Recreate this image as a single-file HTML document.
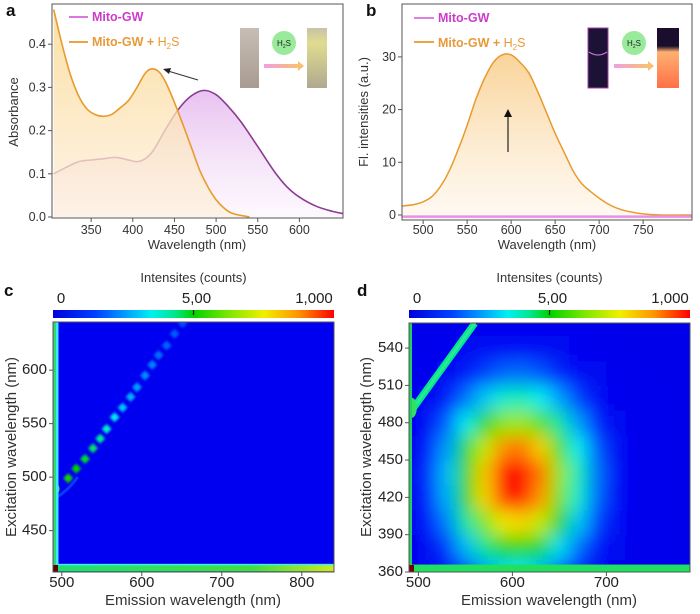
<!DOCTYPE html>
<html><head><meta charset="utf-8"><style>
html,body{margin:0;padding:0;background:#fff;}
svg{display:block;font-family:"Liberation Sans",Arial,sans-serif;}
.tl{font-size:12.5px;fill:#333;}
.tt{font-size:13px;fill:#333;}
.pl{font-size:17px;font-weight:bold;fill:#111;}
.cbl{font-size:15px;fill:#222;}
</style></head><body>
<svg id="fig" width="700" height="614" viewBox="0 0 700 614">
<defs>
<linearGradient id="gPur" x1="0" y1="0" x2="0" y2="1"><stop offset="0" stop-color="#e4b6ee" stop-opacity="0.85"/><stop offset="1" stop-color="#fbf1fc" stop-opacity="0.5"/></linearGradient>
<linearGradient id="gOra" x1="0" y1="0" x2="0" y2="1"><stop offset="0" stop-color="#fbd88e" stop-opacity="0.8"/><stop offset="1" stop-color="#fdf0e0" stop-opacity="0.75"/></linearGradient>
<linearGradient id="gOraB" x1="0" y1="0" x2="0" y2="1"><stop offset="0" stop-color="#f8cf8e" stop-opacity="0.9"/><stop offset="1" stop-color="#fff6ea" stop-opacity="0.6"/></linearGradient>
<linearGradient id="gArr" x1="0" y1="0" x2="1" y2="0"><stop offset="0" stop-color="#f0a0e0"/><stop offset="1" stop-color="#f8c070"/></linearGradient>
<linearGradient id="gCB" x1="0" y1="0" x2="1" y2="0">
<stop offset="0" stop-color="#0000dc"/><stop offset="0.15" stop-color="#0040ff"/><stop offset="0.25" stop-color="#0096ff"/><stop offset="0.35" stop-color="#00f0f0"/><stop offset="0.43" stop-color="#00e890"/><stop offset="0.5" stop-color="#00d200"/><stop offset="0.62" stop-color="#78e600"/><stop offset="0.75" stop-color="#f0f000"/><stop offset="0.87" stop-color="#ff9600"/><stop offset="1" stop-color="#ff0000"/></linearGradient>
<linearGradient id="gVialA" x1="0" y1="0" x2="0" y2="1"><stop offset="0" stop-color="#c8bdb4"/><stop offset="1" stop-color="#a89c92"/></linearGradient>
<linearGradient id="gVialB" x1="0" y1="0" x2="0" y2="1"><stop offset="0" stop-color="#c8c2a8"/><stop offset="0.25" stop-color="#e0dc90"/><stop offset="1" stop-color="#b0a890"/></linearGradient>
<linearGradient id="gVialD" x1="0" y1="0" x2="0" y2="1"><stop offset="0" stop-color="#1a0e2c"/><stop offset="0.3" stop-color="#1a0e2c"/><stop offset="0.4" stop-color="#ffb070"/><stop offset="1" stop-color="#ff7048"/></linearGradient>
<linearGradient id="gStripC" x1="0" y1="0" x2="1" y2="0"><stop offset="0" stop-color="#20e070"/><stop offset="0.7" stop-color="#40e040"/><stop offset="1" stop-color="#d0e820"/></linearGradient>
<clipPath id="clipA"><rect x="52" y="4" width="291" height="214"/></clipPath>
<clipPath id="clipB"><rect x="402" y="4" width="290" height="216"/></clipPath>
<clipPath id="clipC"><rect x="53" y="322" width="281" height="250"/></clipPath>
<clipPath id="clipD"><rect x="409" y="323" width="281" height="249"/></clipPath>
<filter id="blurD" x="-10%" y="-10%" width="120%" height="120%"><feGaussianBlur stdDeviation="9"/></filter>
<filter id="blurS" x="-20%" y="-20%" width="140%" height="140%"><feGaussianBlur stdDeviation="1.2"/></filter>
</defs>

<text class="pl" x="6" y="16">a</text>
<text class="pl" x="366" y="16">b</text>
<text class="pl" x="4" y="296">c</text>
<text class="pl" x="357" y="296">d</text>

<g id="panelA"></g>
<g id="panelB"></g>
<g id="panelC"></g>
<g id="panelD"></g>

<text class="tt" x="197" y="249" text-anchor="middle">Wavelength (nm)</text>
<text class="tt" transform="translate(18,112) rotate(-90)" text-anchor="middle">Absorbance</text>
<text class="tt" x="547" y="249" text-anchor="middle">Wavelength (nm)</text>
<text class="tt" transform="translate(368,112) rotate(-90)" text-anchor="middle">Fl. intensities (a.u.)</text>
<text style="font-size:15px;fill:#333" x="193" y="605" text-anchor="middle">Emission wavelength (nm)</text>
<text style="font-size:15px;fill:#333" transform="translate(16,447) rotate(-90)" text-anchor="middle">Excitation wavelength (nm)</text>
<text style="font-size:15px;fill:#333" x="549" y="605" text-anchor="middle">Emission wavelength (nm)</text>
<text style="font-size:15px;fill:#333" transform="translate(371,447) rotate(-90)" text-anchor="middle">Excitation wavelength (nm)</text>

<line x1="69" y1="17" x2="88" y2="17" stroke="#d878e0" stroke-width="2"/>
<text x="92" y="21" style="font-size:12.5px;font-weight:bold;fill:#cc3ccc">Mito-GW</text>
<line x1="69" y1="42" x2="88" y2="42" stroke="#eca440" stroke-width="2"/>
<text x="92" y="46" style="font-size:12.5px;fill:#e89a38"><tspan font-weight="bold">Mito-GW + </tspan>H<tspan font-size="8" dy="3">2</tspan><tspan dy="-3">S</tspan></text>
<line x1="414" y1="18" x2="434" y2="18" stroke="#e080e0" stroke-width="2"/>
<text x="438" y="22" style="font-size:12.5px;font-weight:bold;fill:#cc3ccc">Mito-GW</text>
<line x1="414" y1="42" x2="434" y2="42" stroke="#eca440" stroke-width="2"/>
<text x="438" y="47" style="font-size:12.5px;fill:#e89a38"><tspan font-weight="bold">Mito-GW + </tspan>H<tspan font-size="8" dy="3">2</tspan><tspan dy="-3">S</tspan></text>

<g>
<rect x="240" y="28" width="19" height="60" fill="url(#gVialA)"/>
<rect x="307" y="28" width="20" height="60" fill="url(#gVialB)"/>
<circle cx="284" cy="43" r="12" fill="#8ee890" opacity="0.9"/>
<text x="284" y="46" text-anchor="middle" style="font-size:8px;fill:#222">H<tspan font-size="5" dy="2">2</tspan><tspan dy="-2">S</tspan></text>
<rect x="264" y="64" width="34" height="4" fill="url(#gArr)"/>
<polygon points="298,61 304,66 298,71" fill="#f8c070"/>
</g>
<g>
<rect x="588" y="28" width="20" height="60" fill="#1c1236" stroke="#a040a0" stroke-width="1"/>
<path d="M589 52 Q598 58 607 52" stroke="#c070d0" fill="none" stroke-width="1.2"/>
<rect x="657" y="28" width="22" height="60" fill="url(#gVialD)"/>
<circle cx="634" cy="43" r="12" fill="#8ee890" opacity="0.9"/>
<text x="634" y="46" text-anchor="middle" style="font-size:8px;fill:#222">H<tspan font-size="5" dy="2">2</tspan><tspan dy="-2">S</tspan></text>
<rect x="614" y="64" width="34" height="4" fill="url(#gArr)"/>
<polygon points="648,61 654,66 648,71" fill="#f8c070"/>
</g>
<line x1="198" y1="80" x2="168" y2="71" stroke="#333" stroke-width="1"/>
<polygon points="163,69 171,68 169,74" fill="#222"/>
<line x1="508" y1="152" x2="508" y2="116" stroke="#222" stroke-width="1.2"/>
<polygon points="508,109 504,117 512,117" fill="#111"/>
</svg>

<script>
// ---------- data: panel a ----------
const absPurpleWl = [305,320,335,350,365,380,395,405,415,425,440,455,470,485,500,515,530,550,570,585,600,620,640,652];
const absPurpleVal = [0.10,0.115,0.128,0.132,0.135,0.138,0.132,0.128,0.135,0.155,0.205,0.25,0.28,0.293,0.283,0.255,0.22,0.163,0.105,0.07,0.046,0.025,0.013,0.008];
const absOrangeWl = [305,315,325,335,345,355,365,375,385,395,405,415,423,432,440,450,460,470,480,490,500,510,520,540];
const absOrangeVal = [0.48,0.40,0.33,0.28,0.25,0.237,0.233,0.238,0.253,0.27,0.30,0.333,0.343,0.335,0.31,0.265,0.215,0.163,0.11,0.07,0.04,0.02,0.008,0.0];
const aXTicks = [350,400,450,500,550,600];
const aYTicks = [0.0,0.1,0.2,0.3,0.4];
const aYTickLabels = ["0.0","0.1","0.2","0.3","0.4"];
// ---------- data: panel b ----------
const flWl = [476,490,500,510,520,530,540,550,560,570,580,590,600,610,620,630,640,650,660,670,680,690,700,710,720,730,750,770,806];
const flOrangeVal = [1.7,2.0,2.5,3.5,5.5,8.5,12.5,17,22,26,29,30.4,30.4,29,27,23.5,19.5,15.5,12,8.5,6,4.5,3.2,2.1,1.3,0.8,0.2,0,0];
const flPurpleWl = [476,806];
const flPurpleVal = [-0.3,-0.3];
const bXTicks = [500,550,600,650,700,750];
const bYTicks = [0,10,20,30];
// ---------- data: panel c ----------
const cXTicks = [500,600,700,800];
const cYTicks = [450,500,550,600];
const diagEmC = [508,518,529,539,548,556,566,576,586,594,604,613,621,631,641,651];
const diagExC = [499,508,517,527,536,545,556,565,575,584,595,605,614,623,634,644];
const diagValC = [520,500,480,450,420,380,340,300,280,260,240,230,210,200,190,180];
// ---------- data: panel d ----------
const dXTicks = [500,600,700];
const dYTicks = [360,390,420,450,480,510,540];
const gridEmD = [490,510,530,550,570,590,610,630,650,670,690,710,730,750,770,790];
const gridExD = [360,380,400,420,440,460,480,500,520,540,560];
const gridValD = [
 [17,42,88,154,260,330,340,300,191,119,62,27,10,3,0,0],
 [30,74,154,290,430,520,540,480,335,209,109,48,18,6,0,0],
 [44,109,227,420,620,760,790,700,495,308,161,71,26,8,0,0],
 [54,135,282,520,780,960,990,870,614,382,200,88,32,10,0,0],
 [57,141,295,540,800,1000,1000,900,650,399,209,92,34,11,0,0],
 [50,124,258,480,700,880,900,790,563,350,183,80,30,10,0,0],
 [37,92,191,350,520,640,660,580,416,259,135,59,22,7,0,0],
 [23,57,119,209,308,382,399,350,259,161,84,37,14,4,0,0],
 [12,30,62,109,161,200,209,183,135,84,44,19,7,2,0,0],
 [5,13,27,48,71,88,92,80,59,37,19,8,3,1,0,0],
 [2,5,10,18,26,32,34,30,22,14,7,3,1,0,0,0]
];
const diagEmD = [493,560];
const diagExD = [490,560];
const diagValD = [430,400];
const cbTickLabels = ["0","5,00","1,000"];

// ---------- helpers ----------
const NS='http://www.w3.org/2000/svg';
function mk(tag, attrs, parent){const e=document.createElementNS(NS,tag);for(const k in attrs)e.setAttribute(k,attrs[k]);parent.appendChild(e);return e;}
const xA=w=>52+(w-303)*0.833, yA=v=>217-v*432;
const xB=w=>402+(w-476)*0.88, yB=v=>215-v*5.27;
const xC=w=>53+(w-489)*0.8, yC=e=>322+(645-e)*1.07;
const xD=w=>409+(w-490)*0.94, yD=e=>572-(e-360)*1.244;
const cmapStops=[[0,[0,0,235]],[0.12,[0,20,250]],[0.25,[0,150,255]],[0.35,[0,240,240]],[0.43,[0,232,144]],[0.5,[0,210,0]],[0.62,[120,230,0]],[0.75,[240,240,0]],[0.87,[255,150,0]],[1,[255,0,0]]];
function cmap(v){let t=Math.max(0,Math.min(1,v/1000));for(let i=1;i<cmapStops.length;i++){const [t1,c1]=cmapStops[i],[t0,c0]=cmapStops[i-1];if(t<=t1){const f=(t-t0)/(t1-t0);return 'rgb('+c0.map((c,j)=>Math.round(c+(c1[j]-c)*f)).join(',')+')';}}return 'rgb(255,0,0)';}
function pathOf(xs,ys,fx,fy){return xs.map((x,i)=>(i?'L':'M')+fx(x).toFixed(1)+' '+fy(ys[i]).toFixed(1)).join(' ');}
function smoothPath(xs,ys,fx,fy){const p=xs.map((x,i)=>[fx(x),fy(ys[i])]);let d='M'+p[0][0].toFixed(1)+' '+p[0][1].toFixed(1);for(let i=0;i<p.length-1;i++){const p0=p[Math.max(0,i-1)],p1=p[i],p2=p[i+1],p3=p[Math.min(p.length-1,i+2)];const c1=[p1[0]+(p2[0]-p0[0])/6,p1[1]+(p2[1]-p0[1])/6],c2=[p2[0]-(p3[0]-p1[0])/6,p2[1]-(p3[1]-p1[1])/6];d+=' C'+c1.map(v=>v.toFixed(1)).join(' ')+' '+c2.map(v=>v.toFixed(1)).join(' ')+' '+p2[0].toFixed(1)+' '+p2[1].toFixed(1);}return d;}
function frame(g,x,y,w,h,name){const r=mk('rect',{x:x,y:y,width:w,height:h,fill:'none',stroke:'#555','stroke-width':1},g);}
function xTicks(g,ticks,fx,yb,labels,cls,dy,name){ticks.forEach((t,i)=>{const l=mk('line',{x1:fx(t),x2:fx(t),y1:yb,y2:yb+4,stroke:'#555'},g);const tx=mk('text',{x:fx(t),y:yb+dy,'text-anchor':'middle',class:cls},g);tx.textContent=labels?labels[i]:String(t);});}
function yTicks(g,ticks,fy,xl,labels,cls,name){ticks.forEach((t,i)=>{const l=mk('line',{x1:xl-4,x2:xl,y1:fy(t),y2:fy(t),stroke:'#555'},g);const tx=mk('text',{x:xl-6,y:fy(t)+4,'text-anchor':'end',class:cls},g);tx.textContent=labels?labels[i]:String(t);});}

// ---------- panel a ----------
const gA=document.getElementById('panelA');
const gAc=mk('g',{'clip-path':'url(#clipA)'},gA);
const pPur=smoothPath(absPurpleWl,absPurpleVal,xA,yA);
const pOra=smoothPath(absOrangeWl,absOrangeVal,xA,yA);
const fPur=mk('path',{d:pPur+' L'+xA(absPurpleWl[absPurpleWl.length-1])+' '+yA(0)+' L'+xA(absPurpleWl[0])+' '+yA(0)+' Z',fill:'url(#gPur)'},gAc);


const lPur=mk('path',{d:pPur,fill:'none',stroke:'#8a3c92','stroke-width':1.6},gAc);


const fOra=mk('path',{d:pOra+' L'+xA(absOrangeWl[absOrangeWl.length-1])+' '+yA(0)+' L'+xA(absOrangeWl[0])+' '+yA(0)+' Z',fill:'url(#gOra)'},gAc);


const lOra=mk('path',{d:pOra,fill:'none',stroke:'#e89a2c','stroke-width':1.6},gAc);


frame(gA,52,4,291,214,'plot-frame-a');
xTicks(gA,aXTicks,xA,218,null,'tl',16,'x-axis-a');
yTicks(gA,aYTicks,yA,52,aYTickLabels,'tl','y-axis-a');

// ---------- panel b ----------
const gB=document.getElementById('panelB');
const gBc=mk('g',{'clip-path':'url(#clipB)'},gB);
const pFl=smoothPath(flWl,flOrangeVal,xB,yB);
const fFl=mk('path',{d:pFl+' L'+xB(flWl[flWl.length-1])+' '+yB(-1)+' L'+xB(flWl[0])+' '+yB(-1)+' Z',fill:'url(#gOraB)'},gBc);


const lFl=mk('path',{d:pFl,fill:'none',stroke:'#e89a2c','stroke-width':1.5},gBc);


const lFp=mk('path',{d:pathOf(flPurpleWl,flPurpleVal,xB,yB),fill:'none',stroke:'#e890e8','stroke-width':2.5},gBc);


frame(gB,402,4,290,216,'plot-frame-b');
xTicks(gB,bXTicks,xB,220,null,'tl',14,'x-axis-b');
yTicks(gB,bYTicks,yB,402,null,'tl','y-axis-b');

// ---------- colorbars ----------
function colorbar(g,x,w,name){const r=mk('rect',{x:x,y:310,width:w,height:8,fill:'url(#gCB)'},g);mk('line',{x1:x+w/2,x2:x+w/2,y1:310,y2:315,stroke:'#111','stroke-width':1.2},g);
const t=mk('text',{x:x+w/2,y:282,'text-anchor':'middle',style:'font-size:13px;fill:#333'},g);t.textContent='Intensites (counts)';
const xs=[x+8,x+w/2+3,x+w-20];cbTickLabels.forEach((s,i)=>{const tx=mk('text',{x:xs[i],y:303,'text-anchor':'middle',class:'cbl'},g);tx.textContent=s;});}

// ---------- panel c ----------
const gC=document.getElementById('panelC');
colorbar(gC,53,281,'colorbar-c');
const gCc=mk('g',{'clip-path':'url(#clipC)'},gC);
mk('rect',{x:53,y:322,width:281,height:250,fill:'#0000f0'},gCc);
mk('path',{d:'M'+xC(490)+' '+yC(480)+' Q'+xC(505)+' '+yC(485)+' '+xC(520)+' '+yC(500),stroke:'#1050ff','stroke-width':3,fill:'none',opacity:0.7},gCc);
diagEmC.forEach((e,i)=>{const s=mk('rect',{x:xC(e)-3.5,y:yC(diagExC[i])-3.5,width:7,height:7,fill:cmap(diagValC[i]),transform:'rotate(45 '+xC(e)+' '+yC(diagExC[i])+')',filter:'url(#blurS)'},gCc);

});
mk('ellipse',{cx:xC(491),cy:yC(489),rx:5,ry:6,fill:'#40e040'},gCc);
mk('circle',{cx:xC(493),cy:yC(489),r:2,fill:'#ff8000'},gCc);
const lsC=mk('rect',{x:53,y:322,width:3,height:250,fill:'#30d870'},gCc);


mk('rect',{x:56,y:322,width:2.5,height:245,fill:'#40e8ff'},gCc);
const bsC=mk('rect',{x:58,y:yC(418),width:276,height:yC(412)-yC(418),fill:'url(#gStripC)'},gCc);


mk('rect',{x:58,y:yC(419),width:276,height:1.5,fill:'#40f0f0'},gCc);
mk('rect',{x:53,y:565,width:5,height:7,fill:'#600000'},gCc);
frame(gC,53,322,281,250,'plot-frame-c');
xTicks(gC,cXTicks,xC,572,null,'cbl',15,'x-axis-c');
yTicks(gC,cYTicks,yC,53,null,'cbl','y-axis-c');

// ---------- panel d ----------
const gD=document.getElementById('panelD');
colorbar(gD,409,281,'colorbar-d');
const gDc=mk('g',{'clip-path':'url(#clipD)'},gD);
mk('rect',{x:409,y:323,width:281,height:249,fill:'#0000eb'},gDc);
const gCells=mk('g',{filter:'url(#blurD)'},gDc);
gridExD.forEach((ex,r)=>{gridEmD.forEach((em,c)=>{const cell=mk('rect',{x:xD(em-10),y:yD(ex+10),width:xD(em+10)-xD(em-10)+0.5,height:yD(ex-10)-yD(ex+10)+0.5,fill:cmap(gridValD[r][c])},gCells);

});});
const dg=mk('path',{d:pathOf(diagEmD,diagExD,xD,yD),stroke:cmap(diagValD[0]),'stroke-width':7,fill:'none'},gDc);


mk('path',{d:pathOf(diagEmD,diagExD,xD,yD),stroke:'#30e890','stroke-width':2.5,fill:'none'},gDc);
mk('ellipse',{cx:xD(493),cy:yD(492),rx:5,ry:10,fill:'#30e060'},gDc);
const lsD=mk('rect',{x:409,y:323,width:3,height:249,fill:'#20d060'},gDc);


const bsD=mk('rect',{x:412,y:yD(366),width:278,height:yD(360)-yD(366),fill:'#20e060'},gDc);


mk('rect',{x:409,y:565,width:5,height:7,fill:'#700000'},gDc);
frame(gD,409,323,281,249,'plot-frame-d');
xTicks(gD,dXTicks,xD,572,null,'cbl',15,'x-axis-d');
yTicks(gD,dYTicks,yD,409,null,'cbl','y-axis-d');
</script>
</body></html>
